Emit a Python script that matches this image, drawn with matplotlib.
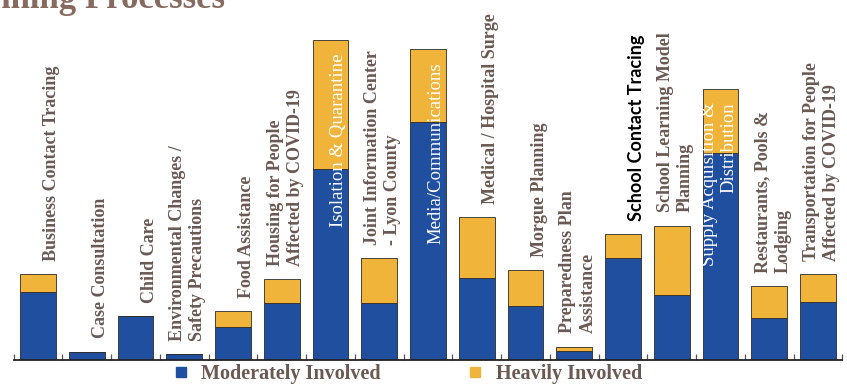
#
# involvement by planning area, stacked bars (moderate / heavy)
#

import matplotlib.pyplot as plt
from matplotlib.lines import Line2D


# planning areas, one bar each
areas = [
	"Business Contact Tracing",
	"Case Consultation",
	"Child Care",
	"Environmental Changes /\nSafety Precautions",
	"Food Assistance",
	"Housing for People\nAffected by COVID-19",
	"Isolation & Quarantine",
	"Joint Information Center\n- Lyon County",
	"Media/Communications",
	"Medical / Hospital Surge",
	"Morgue Planning",
	"Preparedness Plan\nAssistance",
	"School Contact Tracing",
	"School Learning Model\nPlanning",
	"Supply Acquisition &\nDistribution",
	"Restaurants, Pools &\nLodging",
	"Transportation for People\nAffected by COVID-19",
]

# involvement levels
moderate = [21.3, 2.6, 13.8, 1.9, 10.4, 17.8, 59.6, 17.9, 74.5, 25.5, 16.9, 2.9, 32.0, 20.3, 64.6, 13.0, 18.0]
heavy    = [ 5.6, 0.0,  0.0, 0.0,  4.9,  7.5, 40.4, 13.9, 22.6, 19.1, 11.2, 1.3,  7.3, 21.7, 20.1, 10.1,  8.9]

# labels that sit inside their (tall) bars
inside = [ "Isolation & Quarantine", "Media/Communications", "Supply Acquisition &\nDistribution" ]

blue = "#1f4f9e"
gold = "#f0b43a"
txt_col = "#6a5852"
title_col = "#86695f"


fig = plt.figure(figsize=(8.47, 3.87), dpi=100)
W, H = 847., 387.
ax = fig.add_axes([13.55/W, 27./H, 828.9/W, 360./H])

xs = list(range(len(areas)))
ax.bar(xs, moderate, width=0.736, color=blue, edgecolor="#2b2b2b", linewidth=0.6, zorder=2)
ax.bar(xs, heavy, width=0.736, bottom=moderate, color=gold, edgecolor="#2b2b2b", linewidth=0.6, zorder=2)

ax.set_xlim(-0.5, 16.45)
ax.set_ylim(0, 112.5)

for sp in ["left", "right", "top"]:
	ax.spines[sp].set_visible(False)
ax.spines["bottom"].set_color("#222222")
ax.spines["bottom"].set_linewidth(1.3)
ax.set_yticks([])
ax.set_xticks([x + 0.5 for x in range(-1, len(areas))])
ax.set_xticklabels([])
ax.tick_params(axis="x", direction="in", length=4, width=0.9, color="#555555")


# category labels, rotated
for x, name, m, h in zip(xs, areas, moderate, heavy):
	top = m + h
	if name in inside:
		ax.annotate(name, xy=(x, top), xytext=(12, -9.5), textcoords="offset points",
			rotation=90, rotation_mode="anchor", ha="right", va="bottom",
			fontsize=13.5, family="Liberation Serif", color="white", linespacing=1.2,
			zorder=3)
	elif name == "School Contact Tracing":
		ax.annotate(name, xy=(x, top), xytext=(16, 9.5), textcoords="offset points",
			rotation=90, rotation_mode="anchor", ha="left", va="bottom",
			fontsize=13, family="Lato", fontweight="bold", color="black")
	else:
		ax.annotate(name, xy=(x, top), xytext=(16, 9.5), textcoords="offset points",
			rotation=90, rotation_mode="anchor", ha="left", va="bottom",
			fontsize=13, family="Liberation Serif", fontweight="bold", color=txt_col,
			linespacing=1.25)


# heading, runs off the left edge
fig.text(225/W, 1 - 7.5/H, "Planning Processes", ha="right", va="baseline",
	fontsize=25, family="Liberation Serif", fontweight="bold", color=title_col)


# legend
handles = [
	Line2D([], [], ls="none", marker="s", ms=7.2, mfc=blue, mec=blue),
	Line2D([], [], ls="none", marker="s", ms=7.2, mfc=gold, mec=gold),
]
leg = fig.legend(handles, ["Moderately Involved", "Heavily Involved"], ncol=2,
	loc="center left", bbox_to_anchor=(174/W, 1 - 374/H), frameon=False,
	handlelength=0.7, handletextpad=0.65, columnspacing=4.35,
	borderpad=0, borderaxespad=0,
	prop={"family": "Liberation Serif", "weight": "bold", "size": 14.5})
for t in leg.get_texts():
	t.set_color(txt_col)

plt.savefig("out.png", dpi=100)
